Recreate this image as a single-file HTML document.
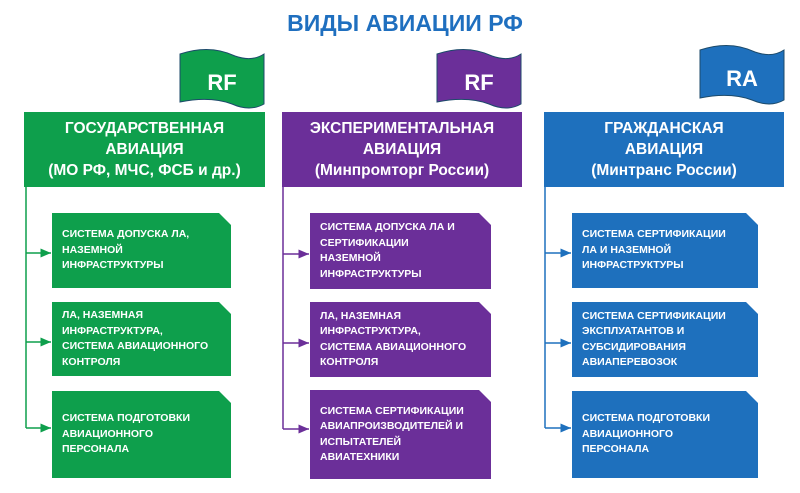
<!DOCTYPE html>
<html><head><meta charset="utf-8"><style>
*{margin:0;padding:0;box-sizing:border-box}
body{width:800px;height:493px;background:#fff;position:relative;overflow:hidden;font-family:"Liberation Sans","DejaVu Sans",sans-serif}
.t{position:absolute;left:0;width:810px;top:10px;text-align:center;color:#1f6fbf;font-weight:bold;font-size:23px}
.h{position:absolute;top:112px;height:75px;color:#fff;font-weight:bold;font-size:15.5px;line-height:21px;text-align:center;padding-top:6px}
.b{position:absolute;color:#fff;font-weight:bold;font-size:10.5px;line-height:15.5px;padding-left:10px;display:flex;align-items:center;clip-path:polygon(0 0,calc(100% - 12px) 0,100% 12px,100% 100%,0 100%)}
.g{background:#0e9f4c}.p{background:#6b2f99}.u{background:#1e70bd}
svg{position:absolute;left:0;top:0}
</style></head><body>
<div class="t">ВИДЫ АВИАЦИИ РФ</div>
<svg width="800" height="493">
<defs>
<marker id="ag" markerWidth="8" markerHeight="8" refX="7" refY="4" orient="auto"><path d="M0,1 L7,4 L0,7z" fill="#0e9f4c"/></marker>
<marker id="ap" markerWidth="8" markerHeight="8" refX="7" refY="4" orient="auto"><path d="M0,1 L7,4 L0,7z" fill="#6b2f99"/></marker>
<marker id="au" markerWidth="8" markerHeight="8" refX="7" refY="4" orient="auto"><path d="M0,1 L7,4 L0,7z" fill="#1e70bd"/></marker>
</defs>
<g stroke="#0e9f4c" stroke-width="1.5" fill="none">
<path d="M26,187 V428"/><path d="M26,253 H51" marker-end="url(#ag)"/><path d="M26,342 H51" marker-end="url(#ag)"/><path d="M26,428 H51" marker-end="url(#ag)"/></g>
<g stroke="#6b2f99" stroke-width="1.5" fill="none">
<path d="M283,187 V429"/><path d="M283,254 H309" marker-end="url(#ap)"/><path d="M283,343 H309" marker-end="url(#ap)"/><path d="M283,429 H309" marker-end="url(#ap)"/></g>
<g stroke="#1e70bd" stroke-width="1.5" fill="none">
<path d="M545,187 V428"/><path d="M545,253 H571" marker-end="url(#au)"/><path d="M545,343 H571" marker-end="url(#au)"/><path d="M545,428 H571" marker-end="url(#au)"/></g>
<path d="M180,54 Q210,44 235,56 Q252,62 264,54 V104 Q250,112 232,104 Q210,96 180,102 Z" fill="#0e9f4c" stroke="#1c4a6a" stroke-width="1"/>
<text x="222" y="90" fill="#fff" font-weight="bold" font-size="22" text-anchor="middle" font-family="Liberation Sans">RF</text>
<path d="M437,54 Q467,44 492,56 Q509,62 521,54 V104 Q507,112 489,104 Q467,96 437,102 Z" fill="#6b2f99" stroke="#1c4a6a" stroke-width="1"/>
<text x="479" y="90" fill="#fff" font-weight="bold" font-size="22" text-anchor="middle" font-family="Liberation Sans">RF</text>
<path d="M700,50 Q730,40 755,52 Q772,58 784,50 V100 Q770,108 752,100 Q730,92 700,98 Z" fill="#1e70bd" stroke="#1c4a6a" stroke-width="1"/>
<text x="742" y="86" fill="#fff" font-weight="bold" font-size="22" text-anchor="middle" font-family="Liberation Sans">RA</text>
</svg>
<div class="h g" style="left:24px;width:241px">ГОСУДАРСТВЕННАЯ<br>АВИАЦИЯ<br>(МО РФ, МЧС, ФСБ и др.)</div>
<div class="h p" style="left:282px;width:240px">ЭКСПЕРИМЕНТАЛЬНАЯ<br>АВИАЦИЯ<br>(Минпромторг России)</div>
<div class="h u" style="left:544px;width:240px">ГРАЖДАНСКАЯ<br>АВИАЦИЯ<br>(Минтранс России)</div>

<div class="b g" style="left:52px;top:213px;width:179px;height:75px">СИСТЕМА ДОПУСКА ЛА,<br>НАЗЕМНОЙ<br>ИНФРАСТРУКТУРЫ</div>
<div class="b g" style="left:52px;top:302px;width:179px;height:74px">ЛА, НАЗЕМНАЯ<br>ИНФРАСТРУКТУРА,<br>СИСТЕМА АВИАЦИОННОГО<br>КОНТРОЛЯ</div>
<div class="b g" style="left:52px;top:391px;width:179px;height:87px">СИСТЕМА ПОДГОТОВКИ<br>АВИАЦИОННОГО<br>ПЕРСОНАЛА</div>

<div class="b p" style="left:310px;top:213px;width:181px;height:76px">СИСТЕМА ДОПУСКА ЛА И<br>СЕРТИФИКАЦИИ<br>НАЗЕМНОЙ<br>ИНФРАСТРУКТУРЫ</div>
<div class="b p" style="left:310px;top:302px;width:181px;height:75px">ЛА, НАЗЕМНАЯ<br>ИНФРАСТРУКТУРА,<br>СИСТЕМА АВИАЦИОННОГО<br>КОНТРОЛЯ</div>
<div class="b p" style="left:310px;top:390px;width:181px;height:89px">СИСТЕМА СЕРТИФИКАЦИИ<br>АВИАПРОИЗВОДИТЕЛЕЙ И<br>ИСПЫТАТЕЛЕЙ<br>АВИАТЕХНИКИ</div>

<div class="b u" style="left:572px;top:213px;width:186px;height:75px">СИСТЕМА СЕРТИФИКАЦИИ<br>ЛА И НАЗЕМНОЙ<br>ИНФРАСТРУКТУРЫ</div>
<div class="b u" style="left:572px;top:302px;width:186px;height:75px">СИСТЕМА СЕРТИФИКАЦИИ<br>ЭКСПЛУАТАНТОВ И<br>СУБСИДИРОВАНИЯ<br>АВИАПЕРЕВОЗОК</div>
<div class="b u" style="left:572px;top:391px;width:186px;height:87px">СИСТЕМА ПОДГОТОВКИ<br>АВИАЦИОННОГО<br>ПЕРСОНАЛА</div>
</body></html>
